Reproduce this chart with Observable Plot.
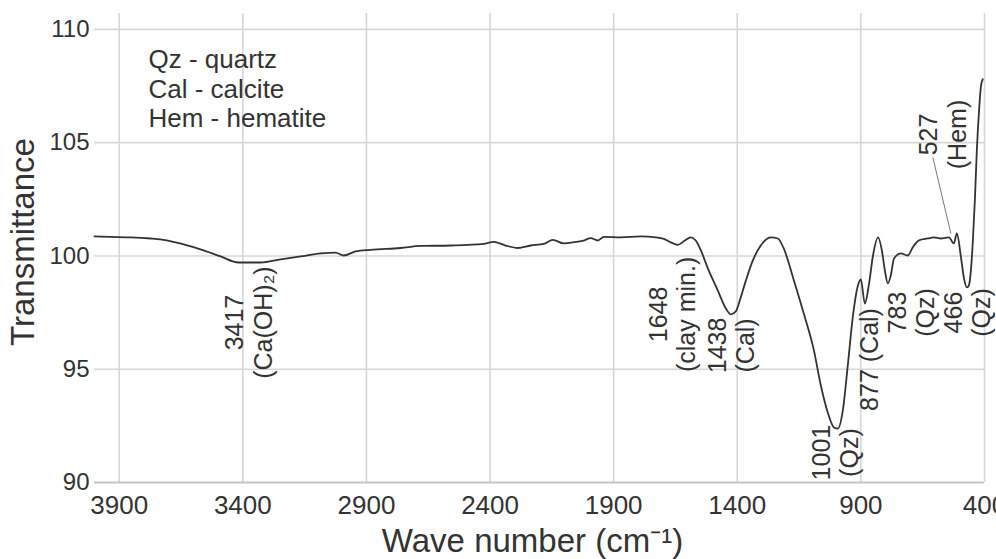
<!DOCTYPE html>
<html><head><meta charset="utf-8">
<script src="https://cdn.jsdelivr.net/npm/d3@7"></script>
<script src="https://cdn.jsdelivr.net/npm/@observablehq/plot@0.6"></script>
<style>body{margin:0;background:#fff;}</style>
</head><body><div id="chart"></div>
<script>
const waveNumber = [4000, 3935, 3854, 3773, 3733, 3672, 3571, 3490, 3417, 3328,
  3247, 3166, 3085, 3025, 2992, 2944, 2883, 2762, 2681, 2559,
  2426, 2385, 2337, 2288, 2236, 2183, 2146, 2102, 2053, 2021,
  1993, 1964, 1940, 1871, 1790, 1730, 1697, 1669, 1641, 1612,
  1588, 1568, 1547, 1519, 1479, 1446, 1426, 1406, 1386, 1365,
  1337, 1305, 1264, 1236, 1212, 1171, 1131, 1090, 1062, 1034,
  1009, 993, 973, 953, 932, 912, 900, 884, 868, 851,
  831, 815, 803, 791, 779, 766, 738, 710, 690, 665,
  629, 605, 576, 544, 524, 512, 495, 483, 471, 463,
  455, 447, 439, 431, 422, 414, 407];
const transmittance = [100.86, 100.84, 100.82, 100.77, 100.73, 100.6, 100.29, 99.98, 99.71, 99.71,
  99.85, 99.98, 100.11, 100.15, 100.02, 100.2, 100.27, 100.35, 100.44, 100.46,
  100.53, 100.62, 100.46, 100.35, 100.46, 100.53, 100.71, 100.55, 100.62, 100.68,
  100.79, 100.68, 100.84, 100.82, 100.86, 100.82, 100.75, 100.6, 100.49, 100.68,
  100.82, 100.68, 100.24, 99.45, 98.48, 97.68, 97.42, 97.55, 98.17, 98.92,
  99.8, 100.46, 100.82, 100.77, 100.33, 98.92, 97.46, 95.83, 94.28, 93.09,
  92.43, 92.38, 93.18, 95.17, 97.37, 98.7, 98.96, 97.9, 98.7, 100.02,
  100.82, 100.24, 99.36, 98.79, 99.14, 99.89, 100.11, 100.02, 100.38, 100.69,
  100.77, 100.82, 100.77, 100.82, 100.55, 100.99, 99.93, 99.01, 98.61, 98.7,
  99.36, 100.68, 102.45, 104.66, 106.42, 107.53, 107.8];

const xTicks = [3900, 3400, 2900, 2400, 1900, 1400, 900, 400];
const yTicks = [90, 95, 100, 105, 110];

const peakLabels = ["3417\n(Ca(OH)₂)", "1648\n(clay min.)", "1438\n(Cal)", "1001\n(Qz)", "877 (Cal)", "783\n(Qz)", "466\n(Qz)", "527\n(Hem)"];
const peakLabelWn = [3377, 1665, 1426, 1005, 868, 698, 472, 570];
const peakLabelT = [97.06, 97.42, 96.05, 91.32, 95.43, 97.5, 97.5, 105.36];

const leaderWn = [609, 536];
const leaderT = [104.35, 100.99];

const legendLines = ["Qz - quartz", "Cal - calcite", "Hem - hematite"];
const xTitle = "Wave number (cm⁻¹)";
const yTitle = "Transmittance";

const spectrum = waveNumber.map((w, i) => ({w, t: transmittance[i]}));
const labels = peakLabels.map((s, i) => ({s, w: peakLabelWn[i], t: peakLabelT[i]}));
const leader = [{x1: leaderWn[0], y1: leaderT[0], x2: leaderWn[1], y2: leaderT[1]}];

const FONT = "'Liberation Sans', Arial, Helvetica, sans-serif";
const TXT = "#333";

const chart = Plot.plot({
  width: 996,
  height: 559,
  marginLeft: 94,
  marginRight: 12,
  marginTop: 13,
  marginBottom: 77,
  style: {fontFamily: FONT, background: "#fff", color: TXT},
  x: {domain: [4000, 400]},
  y: {domain: [90, 110.7]},
  marks: [
    Plot.gridX(xTicks, {stroke: "#d6d6d6", strokeOpacity: 1, strokeWidth: 1.6}),
    Plot.gridY(yTicks.filter(d => d > 90), {stroke: "#d6d6d6", strokeOpacity: 1, strokeWidth: 1.6}),
    Plot.ruleY([90], {stroke: "#c4c4c4", strokeWidth: 2.2}),
    Plot.axisX({ticks: xTicks, tickFormat: d => String(d), tickSize: 0, tickPadding: 13, fontSize: 26, fill: TXT, label: null}),
    Plot.axisY({ticks: yTicks, tickFormat: d => String(d), tickSize: 0, tickPadding: 5, fontSize: 24, fill: TXT, label: null}),
    Plot.text([xTitle], {frameAnchor: "bottom", dy: 59, dx: -7, textAnchor: "middle", lineAnchor: "middle", fontSize: 33, fill: TXT}),
    Plot.text([yTitle], {frameAnchor: "left", rotate: -90, dx: -71, dy: -6, textAnchor: "middle", lineAnchor: "middle", fontSize: 33, fill: TXT}),
    Plot.text([legendLines.join("\n")], {frameAnchor: "top-left", dx: 54, dy: 34, lineAnchor: "top", textAnchor: "start", lineHeight: 1.13, fontSize: 26, fill: TXT}),
    Plot.link(leader, {x1: "x1", y1: "y1", x2: "x2", y2: "y2", stroke: "#777", strokeWidth: 1}),
    Plot.line(spectrum, {x: "w", y: "t", stroke: "#333", strokeWidth: 1.8, curve: "monotone-x"}),
    Plot.text(labels, {x: "w", y: "t", text: "s", rotate: -90, textAnchor: "middle", lineAnchor: "middle", lineHeight: 1.15, fontSize: 25, fill: TXT})
  ]
});
document.getElementById("chart").appendChild(chart);
</script>
</body></html>
